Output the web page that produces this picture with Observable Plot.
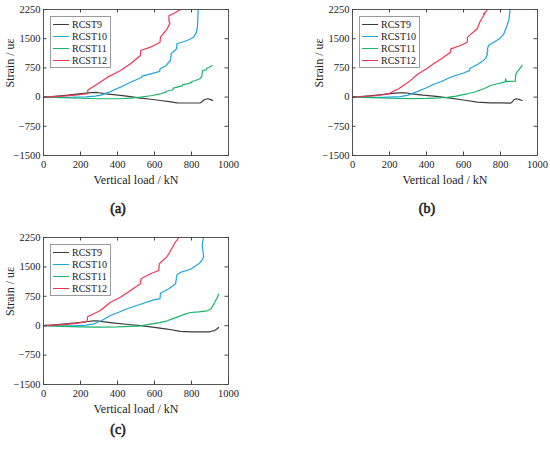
<!DOCTYPE html>
<html><head><meta charset="utf-8">
<script src="https://cdn.jsdelivr.net/npm/d3@7"></script>
<script src="https://cdn.jsdelivr.net/npm/@observablehq/plot@0.6"></script>
<style>
body{margin:0;background:#fff;}
#root{position:relative;width:550px;height:453px;overflow:hidden;background:#fff;font-family:'Liberation Serif','Times New Roman',serif;}
.panel{position:absolute;}
.legend{position:absolute;border:1px solid #9a9a9a;background:#fff;font-size:10px;color:#222;padding:1px 3px 1px 0;box-sizing:border-box;}
.row{height:12px;display:flex;align-items:center;white-space:nowrap;}
.sw{width:16px;height:0;border-top:1.3px solid;margin:0 3px 0 2px;}
</style></head><body><div id="root"></div>
<script>
const series = ["RCST9", "RCST10", "RCST11", "RCST12"];
const colors = ["#3d3d3d", "#1ea5dc", "#19b36b", "#ee3553"];
const xTicks = [0, 200, 400, 600, 800, 1000];
const yTicks = [-1500, -750, 0, 750, 1500, 2250];
const panelLabels = ["(a)", "(b)", "(c)"];
const xLabel = "Vertical load / kN";
const yLabel = "Strain / uε";

// ---- panel (a): [load kN, strain uε]
const a_RCST9 = [[0,0],[60,20],[120,45],[180,75],[230,100],[260,115],[285,120],[300,112],[340,85],[416,42],[470,10],[524,-28],[580,-55],[632,-87],[680,-118],[722,-146],[780,-152],[849,-146],[856,-120],[863,-87],[875,-55],[888,-43],[900,-60],[915,-85]];
const a_RCST10 = [[0,0],[80,-5],[160,-2],[230,8],[280,25],[310,50],[350,120],[416,255],[470,383],[530,505],[533,540],[580,595],[614,640],[628,660],[630,727],[660,800],[686,940],[688,1000],[690,1112],[719,1241],[721,1369],[777,1454],[812,1539],[827,1668],[832,1800],[834,2000],[836,2250]];
const a_RCST11 = [[0,0],[100,-15],[200,-30],[300,-42],[416,-43],[470,-25],[524,-2],[580,35],[632,85],[660,120],[662,150],[686,170],[700,190],[702,230],[722,255],[750,290],[752,320],[777,341],[800,370],[802,400],[822,427],[845,470],[856,540],[858,620],[860,684],[880,700],[882,740],[894,760],[912,812]];
const a_RCST12 = [[0,0],[60,12],[120,30],[180,55],[238,90],[240,180],[300,360],[350,520],[416,684],[470,855],[524,1069],[526,1197],[578,1282],[630,1410],[632,1539],[669,1754],[683,1900],[678,1950],[678,2090],[696,2130],[741,2250]];

// ---- panel (b)
const b_RCST9 = [[0,0],[60,20],[120,45],[180,75],[230,100],[259,111],[286,111],[320,85],[380,50],[440,24],[530,-28],[600,-75],[674,-130],[746,-146],[800,-150],[854,-155],[865,-120],[872,-69],[885,-43],[900,-60],[917,-87]];
const b_RCST10 = [[0,0],[80,-5],[160,-5],[259,10],[300,50],[350,140],[400,240],[440,330],[480,400],[530,511],[560,560],[600,620],[632,680],[636,740],[680,850],[705,930],[720,1000],[730,1100],[726,1110],[732,1200],[728,1220],[736,1330],[764,1410],[800,1520],[818,1626],[836,1839],[846,2000],[852,2250]];
const b_RCST11 = [[0,0],[100,-15],[200,-30],[300,-40],[400,-35],[470,-20],[512,-5],[560,25],[620,85],[660,130],[710,214],[746,298],[790,350],[825,390],[828,470],[832,400],[860,405],[880,410],[882,560],[886,620],[899,700],[917,812]];
const b_RCST12 = [[0,0],[60,15],[120,35],[195,85],[249,215],[303,385],[350,580],[400,730],[440,860],[483,990],[530,1154],[532,1240],[580,1320],[620,1410],[622,1540],[674,1754],[692,1967],[710,2096],[716,2160],[708,2130],[722,2200],[729,2250]];

// ---- panel (c)
const c_RCST9 = [[0,0],[60,20],[120,45],[180,75],[230,100],[270,125],[290,125],[310,110],[350,85],[398,60],[460,30],[524,0],[600,-45],[668,-85],[740,-145],[800,-155],[848,-160],[901,-155],[915,-130],[925,-125],[935,-90],[946,-45]];
const c_RCST10 = [[0,0],[80,-5],[160,-2],[230,15],[272,48],[310,120],[362,260],[410,350],[452,431],[533,560],[596,660],[630,690],[632,830],[680,950],[714,1069],[718,1200],[722,1300],[740,1360],[795,1440],[845,1600],[858,1680],[866,1760],[862,1900],[858,2040],[862,2180],[865,2250]];
const c_RCST11 = [[0,0],[100,-15],[200,-30],[300,-38],[400,-30],[470,-15],[524,-3],[578,38],[630,80],[669,125],[700,180],[741,252],[760,290],[795,337],[840,355],[885,380],[905,430],[921,549],[930,640],[940,720],[946,805]];
const c_RCST12 = [[0,0],[60,15],[120,35],[180,60],[236,110],[238,230],[308,388],[362,600],[416,727],[470,898],[524,1069],[527,1196],[578,1324],[623,1408],[626,1579],[669,1770],[696,1990],[714,2140],[732,2250]];

const panelData = [
  [a_RCST9, a_RCST10, a_RCST11, a_RCST12],
  [b_RCST9, b_RCST10, b_RCST11, b_RCST12],
  [c_RCST9, c_RCST10, c_RCST11, c_RCST12]
];

// layout (pixels)
const layout = [
  {left: 0,   top: 0,   mL: 43, mR: 47, mT: 9, mB: 70, labDy: 57},
  {left: 275, top: 0,   mL: 77, mR: 13, mT: 9, mB: 70, labDy: 57},
  {left: 0,   top: 228, mL: 43, mR: 47, mT: 9, mB: 69, labDy: 49}
];
const W = 275, H = 225, tk = 3.5;
const FONT = "'Liberation Serif', 'Times New Roman', serif";
const fmt = d => d < 0 ? "\u2212" + Math.abs(d) : String(d);
const root = document.getElementById("root");

panelData.forEach((sets, p) => {
  const L = layout[p];
  const fh = H - L.mT - L.mB, fw = W - L.mL - L.mR;
  const rows = sets.flatMap((arr, i) => arr.map(([x, y]) => ({load: x, strain: y, series: series[i]})));
  const chart = Plot.plot({
    width: W, height: H,
    marginLeft: L.mL, marginRight: L.mR, marginTop: L.mT, marginBottom: L.mB,
    style: {fontFamily: FONT, fontSize: "10.5px", color: "#222", background: "transparent", overflow: "visible"},
    x: {domain: [0, 1000], label: null},
    y: {domain: [-1500, 2250], label: null},
    color: {domain: series, range: colors},
    marks: [
      Plot.line(rows, {x: "load", y: "strain", z: "series", stroke: "series", strokeWidth: 1.2, clip: true}),
      Plot.frame({stroke: "#444", strokeWidth: 0.9}),
      Plot.tickX(xTicks, {x: d => d, insetTop: fh - tk, stroke: "#444"}),
      Plot.tickX(xTicks, {x: d => d, insetBottom: fh - tk, stroke: "#444"}),
      Plot.tickY(yTicks, {y: d => d, insetRight: fw - tk, stroke: "#444"}),
      Plot.tickY(yTicks, {y: d => d, insetLeft: fw - tk, stroke: "#444"}),
      Plot.axisX({ticks: xTicks, tickSize: 0, tickPadding: 5, tickFormat: fmt, label: null}),
      Plot.axisY({ticks: yTicks, tickSize: 0, tickPadding: 3, tickFormat: fmt, label: null}),
      Plot.text([xLabel], {text: d => d, frameAnchor: "bottom", dy: 28, fontSize: 12, fill: "#222"}),
      Plot.text([yLabel], {text: d => d, frameAnchor: "left", dx: -33, dy: 5, rotate: -90, fontSize: 12, fill: "#222"}),
      Plot.text([panelLabels[p]], {text: d => d, frameAnchor: "bottom", dx: -18, dy: L.labDy, fontSize: 14, fill: "#222", stroke: "#222", strokeWidth: 0.6})
    ]
  });
  const wrap = document.createElement("div");
  wrap.className = "panel";
  wrap.style.left = L.left + "px";
  wrap.style.top = L.top + "px";
  wrap.appendChild(chart);
  const lg = document.createElement("div");
  lg.className = "legend";
  lg.style.left = (L.mL + 7) + "px";
  lg.style.top = (L.mT + 7) + "px";
  series.forEach((s, i) => {
    const r = document.createElement("div");
    r.className = "row";
    const sw = document.createElement("span");
    sw.className = "sw";
    sw.style.borderTopColor = colors[i];
    const t = document.createElement("span");
    t.textContent = s;
    r.appendChild(sw); r.appendChild(t);
    lg.appendChild(r);
  });
  wrap.appendChild(lg);
  root.appendChild(wrap);
});
</script></body></html>
